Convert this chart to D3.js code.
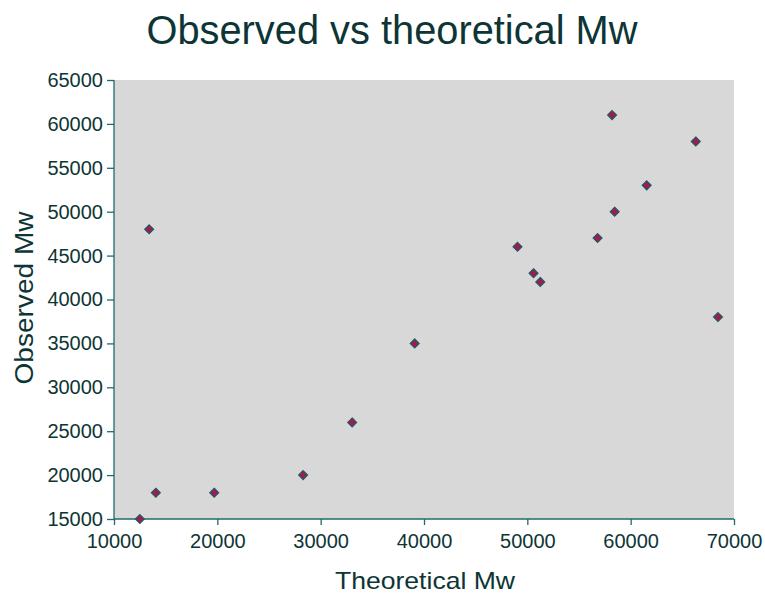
<!DOCTYPE html>
<html>
<head>
<meta charset="utf-8">
<script src="https://cdn.jsdelivr.net/npm/d3@7"></script>
<style>
  body { margin: 0; background: #fff; }
  text { font-family: "Liberation Sans", Arial, sans-serif; }
</style>
</head>
<body>
<svg id="chart" width="765" height="594"></svg>
<script>
// values
var theoretical = [12500, 13400, 14050, 19700, 28300, 33050, 39100, 49050, 50600, 51250, 58200, 66300, 61550, 58450, 56800, 68450];
var observed    = [15000, 48000, 18000, 18000, 20000, 26000, 35000, 46000, 43000, 42000, 61000, 58000, 53000, 50000, 47000, 38000];
var xTicks = [10000, 20000, 30000, 40000, 50000, 60000, 70000];
var yTicks = [15000, 20000, 25000, 30000, 35000, 40000, 45000, 50000, 55000, 60000, 65000];

var ink = "#0d3535",
    axisCol = "#1f6b6b";

var plotL = 114, plotR = 734, plotT = 80, plotB = 519;

var svg = d3.select("#chart");

var x = d3.scaleLinear().domain([10000, 70000]).range([plotL, plotR]);
var y = d3.scaleLinear().domain([15000, 65000]).range([plotB, plotT]);

svg.append("rect")
    .attr("x", plotL).attr("y", plotT)
    .attr("width", plotR - plotL).attr("height", plotB - plotT)
    .attr("fill", "#d8d8d8");

var xAxis = svg.append("g")
    .attr("transform", "translate(0," + plotB + ")")
    .call(d3.axisBottom(x).tickValues(xTicks).tickFormat(d3.format("d")).tickSize(6).tickSizeOuter(6));

var yAxis = svg.append("g")
    .attr("transform", "translate(" + plotL + ",0)")
    .call(d3.axisLeft(y).tickValues(yTicks).tickFormat(d3.format("d")).tickSize(7).tickSizeOuter(7));

[xAxis, yAxis].forEach(function (g) {
    g.select(".domain").remove();
    g.selectAll("line").attr("stroke", axisCol).attr("stroke-width", 1.3);
    g.selectAll("text")
        .attr("fill", ink)
        .style("font-size", "20px")
        .style("font-family", "'Liberation Sans', Arial, sans-serif");
});
xAxis.selectAll("text").attr("dy", "1.0em");
yAxis.selectAll("text").attr("dx", "-1px");

// axis lines
svg.append("line")
    .attr("x1", plotL).attr("x2", plotR).attr("y1", plotB).attr("y2", plotB)
    .attr("stroke", axisCol).attr("stroke-width", 1.3);
svg.append("line")
    .attr("x1", plotL).attr("x2", plotL).attr("y1", plotT).attr("y2", plotB)
    .attr("stroke", axisCol).attr("stroke-width", 1.3);

// markers
svg.append("g").selectAll("path")
    .data(theoretical.map(function (d, i) { return [d, observed[i]]; }))
    .join("path")
    .attr("transform", function (d) { return "translate(" + x(d[0]) + "," + y(d[1]) + ")"; })
    .attr("d", d3.symbol().type(d3.symbolDiamond2).size(50))
    .attr("fill", "#a01a55")
    .attr("stroke", "#1f5a5a")
    .attr("stroke-width", 1.2);

svg.append("text")
    .attr("x", 392).attr("y", 44)
    .attr("text-anchor", "middle")
    .attr("fill", ink)
    .attr("textLength", 491)
    .attr("lengthAdjust", "spacingAndGlyphs")
    .style("font-size", "41px")
    .text("Observed vs theoretical Mw");

svg.append("text")
    .attr("x", 425).attr("y", 589)
    .attr("text-anchor", "middle")
    .attr("fill", ink)
    .attr("textLength", 180)
    .attr("lengthAdjust", "spacingAndGlyphs")
    .style("font-size", "24px")
    .text("Theoretical Mw");

svg.append("text")
    .attr("transform", "translate(33,298) rotate(-90)")
    .attr("text-anchor", "middle")
    .attr("fill", ink)
    .attr("textLength", 173)
    .attr("lengthAdjust", "spacingAndGlyphs")
    .style("font-size", "25px")
    .text("Observed Mw");
</script>
</body>
</html>
